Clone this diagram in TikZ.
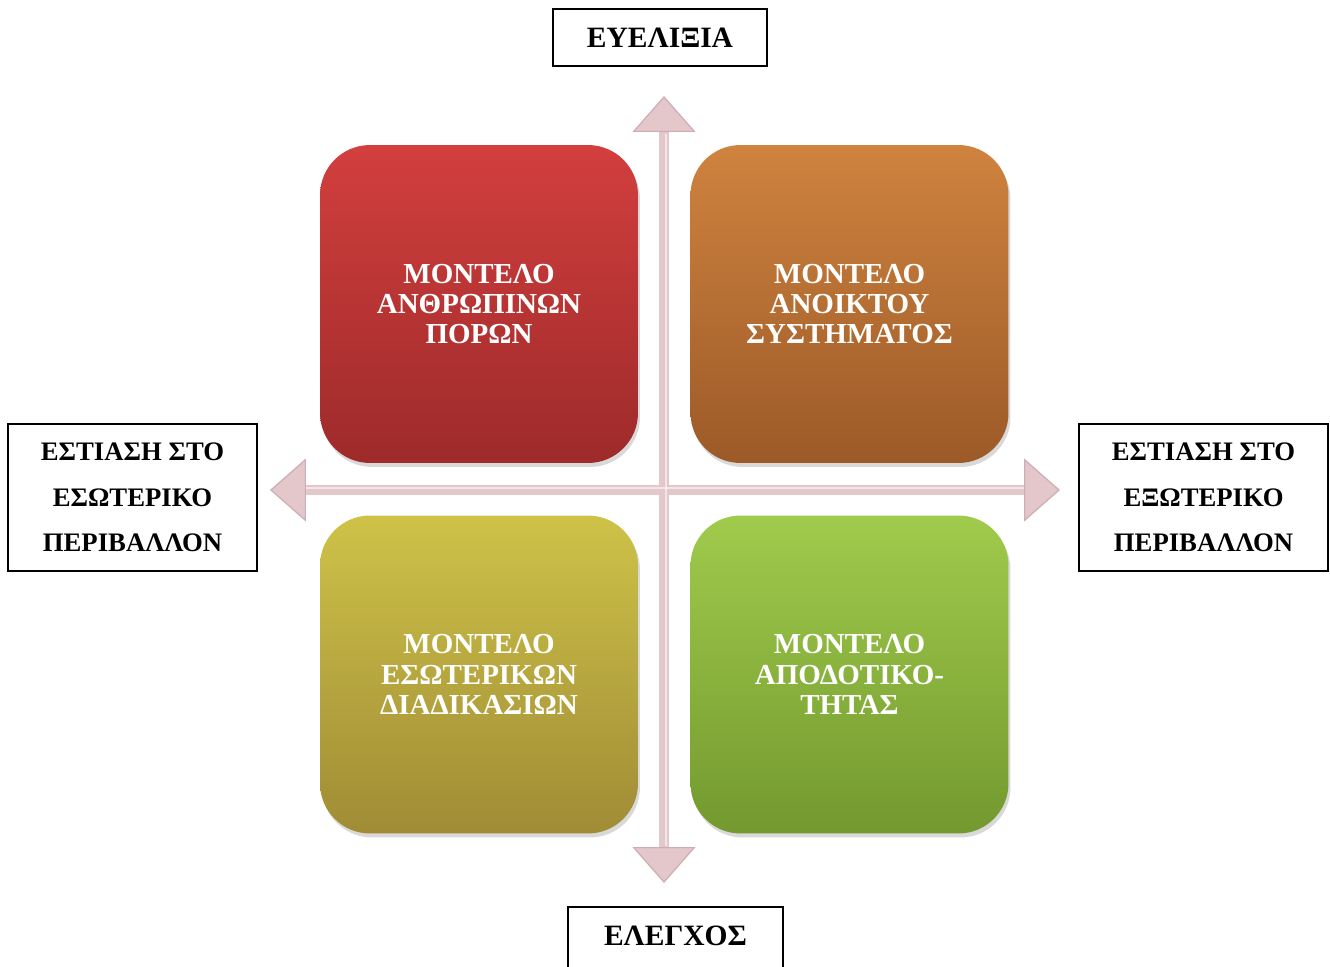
\documentclass[tikz,border=0pt]{standalone}
\usepackage{fontspec}
\setmainfont{Liberation Serif}
\usetikzlibrary{arrows.meta,shadows,positioning}
\definecolor{redtop}{HTML}{D23F3E}
\definecolor{redbot}{HTML}{9E2A2A}
\definecolor{orangetop}{HTML}{CF833F}
\definecolor{orangebot}{HTML}{9C5A28}
\definecolor{yellowtop}{HTML}{CEC248}
\definecolor{yellowbot}{HTML}{A08C36}
\definecolor{greentop}{HTML}{A0CB4C}
\definecolor{greenbot}{HTML}{73992F}
\definecolor{axiscol}{HTML}{E4C7CA}
\definecolor{axisedge}{HTML}{CDAEB3}
\tikzset{
  model/.style={rounded corners=1cm, minimum width=6.36cm, minimum height=6.36cm,
    inner sep=0pt, text=white, align=center,
    font=\bfseries\fontsize{16.5}{17.2}\selectfont,
    drop shadow={shadow xshift=0.04cm, shadow yshift=-0.08cm, opacity=0.25, fill=black!60}},
  label box/.style={draw, line width=1.1pt, align=center, inner sep=0pt,
    font=\bfseries\fontsize{15.2}{26}\selectfont},
  end box/.style={label box, font=\bfseries\fontsize{16.8}{20}\selectfont},
  axis/.style={draw=axiscol, line width=0.2cm,
    {Triangle[width=1.26cm,length=0.72cm,line width=0.7pt,color=axisedge,fill=axiscol]}-{Triangle[width=1.26cm,length=0.72cm,line width=0.7pt,color=axisedge,fill=axiscol]}},
  axis shine/.style={draw=white, line width=0.05cm, opacity=0.55}
}
\begin{document}
\begin{tikzpicture}[x=0.02cm,y=-0.02cm]
\newcommand{\colL}{479}
\newcommand{\colR}{849.5}
\newcommand{\rowT}{304}
\newcommand{\rowB}{674.5}
\newcommand{\midx}{664}
\newcommand{\midy}{490}
\useasboundingbox (0,0) rectangle (1330,967);

\coordinate (up) at (\midx,96);
\coordinate (down) at (\midx,883);
\coordinate (left) at (270,\midy);
\coordinate (right) at (1060,\midy);

\draw [axis] (left) -- (right);
\draw [axis] (up) -- (down);
\draw [axis shine] (306,\midy-2) -- (1024,\midy-2);
\draw [axis shine] (\midx+2,134) -- (\midx+2,846);

\node [model, top color=redtop, bottom color=redbot] (hr) at (\colL,\rowT) {ΜΟΝΤΕΛΟ\\ΑΝΘΡΩΠΙΝΩΝ\\ΠΟΡΩΝ};
\node [model, top color=orangetop, bottom color=orangebot] (open) at (\colR,\rowT) {ΜΟΝΤΕΛΟ\\ΑΝΟΙΚΤΟΥ\\ΣΥΣΤΗΜΑΤΟΣ};
\node [model, top color=yellowtop, bottom color=yellowbot] (proc) at (\colL,\rowB) {ΜΟΝΤΕΛΟ\\ΕΣΩΤΕΡΙΚΩΝ\\ΔΙΑΔΙΚΑΣΙΩΝ};
\node [model, top color=greentop, bottom color=greenbot] (goal) at (\colR,\rowB) {ΜΟΝΤΕΛΟ\\ΑΠΟΔΟΤΙΚΟ-\\ΤΗΤΑΣ};

\node [end box, minimum width=4.28cm, minimum height=1.14cm] (flex) at (660,37.5) {ΕΥΕΛΙΞΙΑ};
\node [end box, minimum width=4.3cm, minimum height=1.3cm, text depth=0.16cm, anchor=north] (ctrl) at (675.5,906) {ΕΛΕΓΧΟΣ};
\node [label box, minimum width=4.98cm, minimum height=2.94cm] (inner) at (132.5,497.5) {ΕΣΤΙΑΣΗ ΣΤΟ\\ΕΣΩΤΕΡΙΚΟ\\ΠΕΡΙΒΑΛΛΟΝ};
\node [label box, minimum width=4.98cm, minimum height=2.94cm] (outer) at (1203.5,497.5) {ΕΣΤΙΑΣΗ ΣΤΟ\\ΕΞΩΤΕΡΙΚΟ\\ΠΕΡΙΒΑΛΛΟΝ};
\end{tikzpicture}
\end{document}
